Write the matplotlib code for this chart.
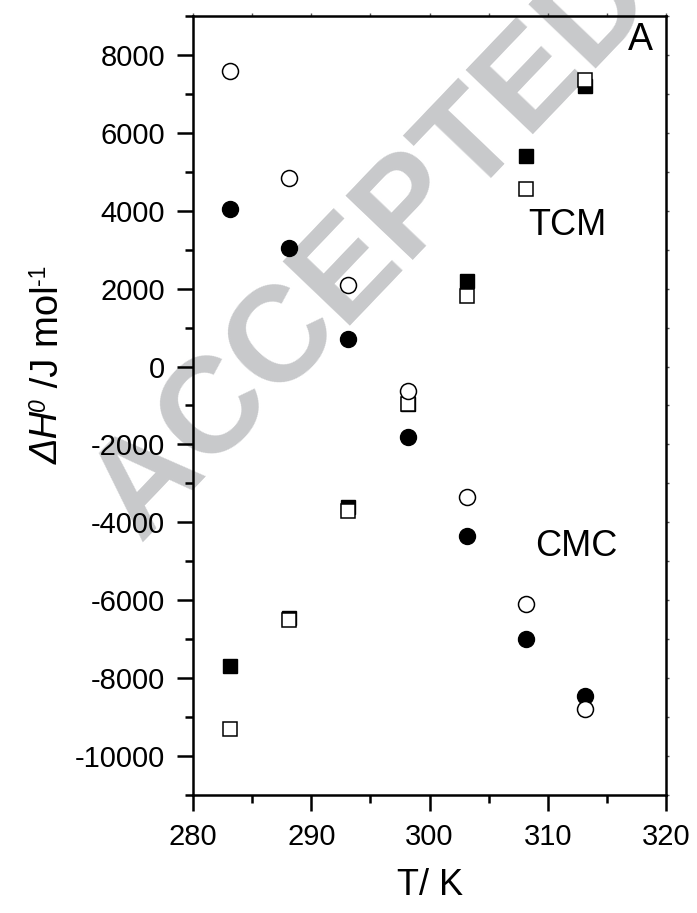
import numpy as np
import matplotlib
matplotlib.use('Agg')
import matplotlib.pyplot as plt
from matplotlib.ticker import MultipleLocator, NullFormatter

# temperatures (K) and enthalpy values (J/mol)
T = [283.15, 288.15, 293.15, 298.15, 303.15, 308.15, 313.15]
cmc_filled = [4050, 3050, 700, -1800, -4350, -7000, -8450]
cmc_open = [7600, 4850, 2100, -620, -3350, -6100, -8800]
tcm_filled = [-7700, -6450, -3600, -950, 2200, 5400, 7200]
tcm_open = [-9300, -6500, -3700, -950, 1800, 4550, 7350]

plt.rcParams['font.family'] = 'Liberation Sans'
plt.rcParams['axes.unicode_minus'] = False

W, H = 697, 913
fig = plt.figure(figsize=(W / 100, H / 100), dpi=100)
ax = fig.add_axes([193 / W, 1 - 795 / H, (666 - 193) / W, (795 - 16) / H])
ax.patch.set_alpha(0)

# watermark behind everything
fig.text(373 / W, 1 - 247 / H, "ACCEPTED", fontsize=98, fontweight='bold',
         color='#c8c9cb', rotation=46.3, rotation_mode='anchor',
         ha='center', va='center', zorder=-5)

ax.plot(T, tcm_filled, 's', ms=10, mfc='black', mec='black', mew=1.0, zorder=3)
ax.plot(T, tcm_open, 's', ms=10, mfc='white', mec='black', mew=1.1, zorder=4)
ax.plot(T, cmc_filled, 'o', ms=11.5, mfc='black', mec='black', mew=1.0, zorder=5)
ax.plot(T, cmc_open, 'o', ms=11.5, mfc='white', mec='black', mew=1.1, zorder=6)

ax.set_xlim(280, 320)
ax.set_ylim(-11000, 9000)
ax.xaxis.set_major_locator(MultipleLocator(10))
ax.xaxis.set_minor_locator(MultipleLocator(5))
ax.yaxis.set_major_locator(MultipleLocator(2000))
ax.yaxis.set_minor_locator(MultipleLocator(1000))

for s in ax.spines.values():
    s.set_linewidth(1.8)

ax.tick_params(which='both', direction='out', width=1.8, top=False, right=False)
ax.tick_params(which='major', length=11.5, labelsize=21, pad=8.5)
ax.tick_params(which='minor', length=5.8)

# short ticks on top and right
axr = ax.secondary_yaxis('right')
axr.yaxis.set_major_locator(MultipleLocator(1000))
axr.yaxis.set_major_formatter(NullFormatter())
axr.tick_params(length=2.5, width=1.0, direction='out', color='#555555')
axr.spines['right'].set_visible(False)
axt = ax.secondary_xaxis('top')
axt.xaxis.set_major_locator(MultipleLocator(5))
axt.xaxis.set_major_formatter(NullFormatter())
axt.tick_params(length=2.5, width=1.0, direction='out', color='#555555')
axt.spines['top'].set_visible(False)

ax.text(317.8, 8380, "A", fontsize=27, ha='center', va='center')
ax.text(311.7, 3610, "TCM", fontsize=26, ha='center', va='center')
ax.text(312.4, -4630, "CMC", fontsize=26, ha='center', va='center')

fig.text(430 / W, 1 - 885 / H, "T/ K", fontsize=26, ha='center', va='center')

# y label built from pieces (italic Delta H, superscripts), rotated 90 degrees
renderer = fig.canvas.get_renderer()
base_x = 58
y_pos = 464
pieces = [("ΔH", 27.5, 'italic', 0), ("0", 16.5, 'italic', 13),
          (" /J mol", 27.5, 'normal', 0), ("-1", 16.5, 'normal', 13)]
for txt, size, style, rise in pieces:
    t = fig.text((base_x - rise) / W, 1 - y_pos / H, txt, fontsize=size,
                 fontstyle=style, rotation=90, rotation_mode='anchor',
                 ha='left', va='baseline')
    bb = t.get_window_extent(renderer)
    y_pos -= bb.height

fig.savefig('out.png', dpi=100)
